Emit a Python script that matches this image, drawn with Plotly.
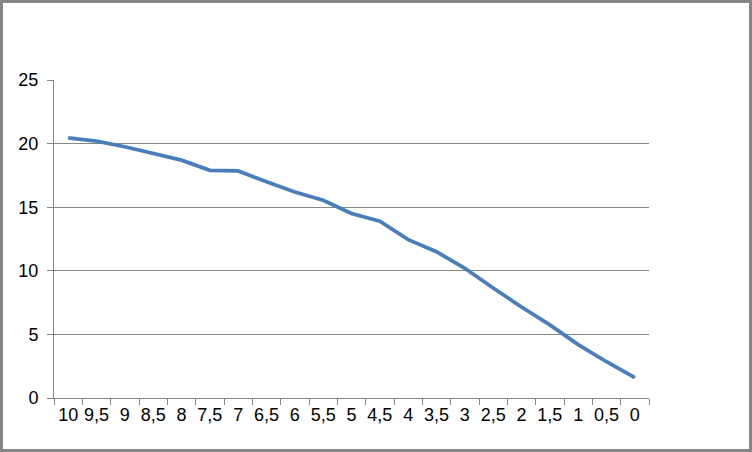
import plotly.graph_objects as go

categories = ["10", "9,5", "9", "8,5", "8", "7,5", "7", "6,5", "6", "5,5", "5",
              "4,5", "4", "3,5", "3", "2,5", "2", "1,5", "1", "0,5", "0"]
values = [20.45, 20.2, 19.75, 19.2, 18.7, 17.9, 17.85, 17.0, 16.2, 15.55, 14.5,
          13.9, 12.45, 11.5, 10.2, 8.65, 7.15, 5.75, 4.2, 2.85, 1.6]
y_ticks = [0, 5, 10, 15, 20, 25]

L, R, T, B = 54, 103, 80, 54
PW, PH = 752 - L - R, 452 - T - B

fig = go.Figure()
fig.add_trace(go.Scatter(x=categories, y=values, mode="lines",
                         line=dict(color="#4A7EBB", width=3.75)))

fig.update_layout(
    width=752, height=452,
    margin=dict(l=L, r=R, t=T, b=B, autoexpand=False),
    paper_bgcolor="white", plot_bgcolor="white",
    showlegend=False,
    font=dict(family="Liberation Sans, Arial, sans-serif", size=18, color="#000000"),
)
fig.update_xaxes(type="category", showgrid=False, showline=True, linecolor="#868686",
                 linewidth=1, ticks="outside", tickson="boundaries", ticklen=6,
                 tickcolor="#868686", zeroline=False, tickangle=0, automargin=False,
                 range=[-0.5, 20.5])
fig.update_yaxes(range=[0, 25], tickvals=y_ticks, showgrid=True, gridcolor="#868686",
                 gridwidth=1, showline=True, linecolor="#868686", linewidth=1,
                 ticks="outside", ticklen=6, tickcolor="#868686", zeroline=False,
                 ticklabelstandoff=5, automargin=False)

# outer chart border
fig.add_shape(type="rect", xref="paper", yref="paper",
              x0=-(L - 1.5) / PW, x1=1 + (R - 1.5) / PW,
              y0=-(B - 1.5) / PH, y1=1 + (T - 1.5) / PH,
              line=dict(color="#868686", width=3), fillcolor="rgba(0,0,0,0)")

fig.write_html("out.html", config={"displayModeBar": False},
               post_script="document.body.style.margin='0';document.body.style.overflow='hidden';")
